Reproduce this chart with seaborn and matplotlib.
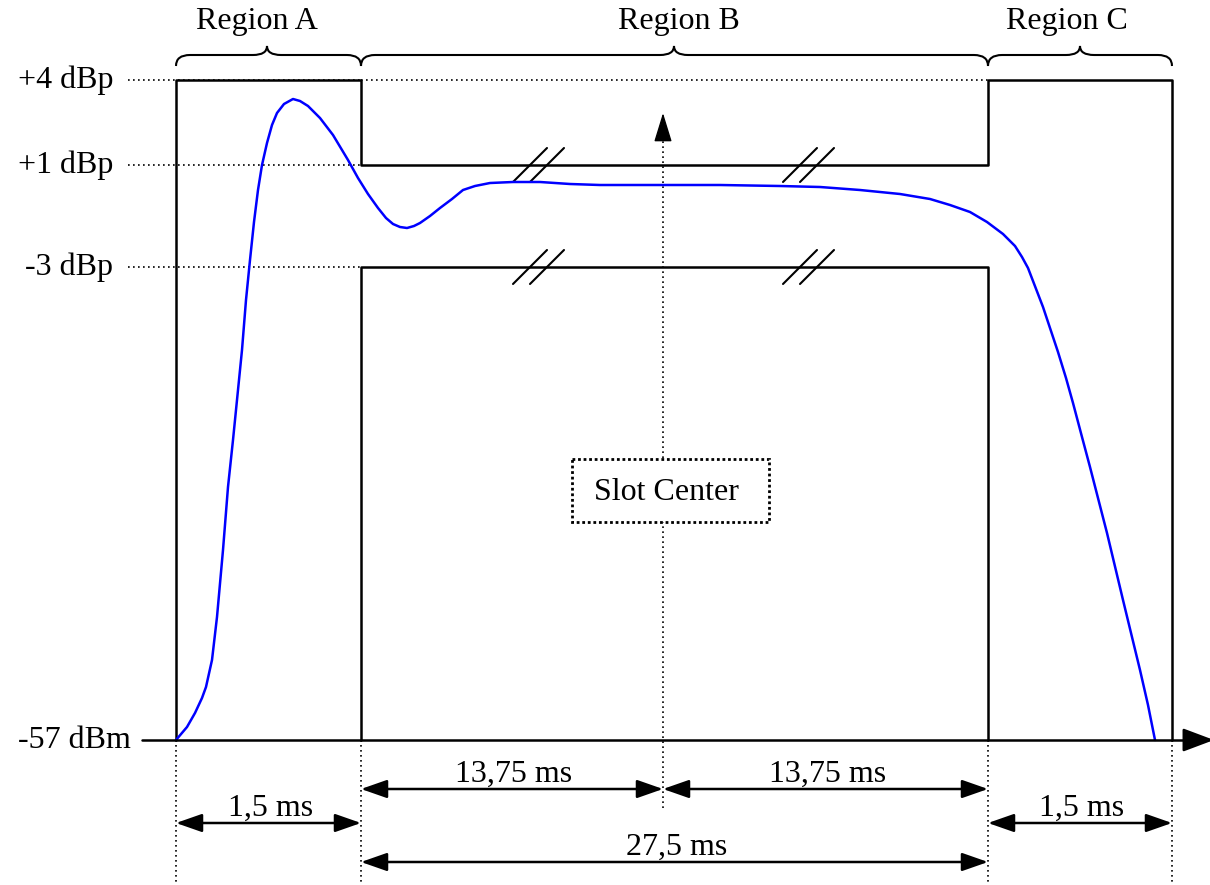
import numpy as np
import pandas as pd
import seaborn as sns
import matplotlib.pyplot as plt
from matplotlib.path import Path
from matplotlib.patches import PathPatch, Rectangle

# Schematic diagram: coordinates are drawing units (x to the right, y downward)
# region edges: start of A, end of A, slot center, end of B, end of C
edge_x = [176, 361, 663, 988, 1172]
# level positions on the drawing
level_names = ["+4 dBp", "+1 dBp", "-3 dBp", "-57 dBm"]
level_y = [80, 165, 267, 740]

region_names = ["Region A", "Region B", "Region C"]
region_tips = [267, 674, 1080]

# measured burst power curve (blue)
curve_x = [176, 187, 195, 202, 206, 212, 217, 223, 228, 233, 237, 242, 246, 250, 254, 258,
           262, 267, 272, 277, 284, 293, 300, 308, 320, 333, 348, 358, 368, 378, 386,
           393, 400, 407, 414, 420, 430, 440, 452, 463, 475, 490, 513, 540, 570, 600,
           663, 720, 780, 820, 860, 900, 930, 950, 970, 987, 1003, 1015, 1022, 1028,
           1033, 1038, 1043, 1050, 1058, 1066, 1073, 1082, 1090, 1107, 1123, 1140,
           1148, 1155]
curve_y = [740, 727, 713, 698, 687, 660, 617, 550, 487, 440, 400, 350, 300, 260, 222, 190,
           165, 143, 125, 113, 104, 99, 101, 106, 118, 135, 160, 178, 194, 208, 218,
           224, 227, 228, 226, 223, 216, 208, 199, 190, 186, 183, 182, 182, 184, 185,
           185, 185, 186, 187, 190, 194, 199, 205, 212, 222, 234, 246, 257, 268,
           281, 294, 307, 328, 352, 378, 403, 437, 467, 533, 600, 670,
           705, 740]

dim_labels = ["1,5 ms", "13,75 ms", "13,75 ms", "1,5 ms", "27,5 ms"]
dim_from = [0, 1, 2, 3, 1]   # index into edge_x
dim_to = [1, 2, 3, 4, 3]
dim_row = [823, 789, 789, 823, 862]

sns.set_style("white")
plt.rcParams['font.family'] = ['Liberation Serif', 'DejaVu Serif']
plt.rcParams['text.color'] = 'black'

fig = plt.figure(figsize=(12.1, 8.85), dpi=100)
ax = fig.add_axes([0, 0, 1, 1])
ax.set_xlim(0, 1210)
ax.set_ylim(885, 0)
ax.axis('off')

x0, xa, xc, xb, xe = edge_x
y4, y1, y3, y57 = level_y
FS = 23

# dotted reference lines
dot = dict(color='black', lw=1.2, linestyle=(0, (1, 2)))
for y in level_y[:3]:
    ax.plot([128, xa], [y, y], **dot)
ax.plot([xa, xb], [y4, y4], **dot)
for x in [x0, xa, xb, xe]:
    ax.plot([x, x], [y57, 885], **dot)
ax.plot([xc, xc], [808, 130], **dot)

# mask template
upper = pd.DataFrame({
    'x': [x0, x0, xa, xa, xb, xb, xe, xe],
    'y': [y57, y4, y4, y1, y1, y4, y4, y57]})
lower = pd.DataFrame({
    'x': [xa, xa, xb, xb],
    'y': [y57, y3, y3, y57]})
sns.lineplot(data=upper, x='x', y='y', sort=False, estimator=None, color='black', lw=1.8, ax=ax)
sns.lineplot(data=lower, x='x', y='y', sort=False, estimator=None, color='black', lw=1.8, ax=ax)

# break marks
for y in [y1, y3]:
    for cx in [530, 547, 800, 817]:
        ax.plot([cx - 17, cx + 17], [y + 17, y - 17], color='black', lw=1.5)

# burst curve
sns.lineplot(x=curve_x, y=curve_y, sort=False, estimator=None, color='#0000ff', lw=1.8, ax=ax)

# time axis
ax.plot([142, 1195], [y57, y57], color='black', lw=1.8)
ax.annotate('', xy=(1214, y57), xytext=(1190, y57), annotation_clip=False,
            arrowprops=dict(arrowstyle='-|>,head_length=1.2,head_width=0.45', color='black',
                            lw=1.8, mutation_scale=16, shrinkA=0, shrinkB=0))

# slot center arrow head
ax.annotate('', xy=(xc, 113), xytext=(xc, 134),
            arrowprops=dict(arrowstyle='-|>,head_length=1.3,head_width=0.4', color='black',
                            lw=1, mutation_scale=14, shrinkA=0, shrinkB=0))
ax.add_patch(Rectangle((572, 459), 197, 63, fc='white', ec='black', lw=2,
                       linestyle=(0, (1, 1)), zorder=3))
ax.text(666, 492, 'Slot Center', ha='center', va='center', fontsize=FS, zorder=4)

# level labels
for name, y in zip(level_names, level_y):
    xr = 131 if name.endswith('dBm') else 113
    ax.text(xr, y, name, ha='right', va='center', fontsize=FS)

# braces and region labels
spans = [(x0, xa), (xa, xb), (xb, xe)]
for (a, b), tip, name in zip(spans, region_tips, region_names):
    verts = [(a, 66), (a, 55), (a + 14, 55), (tip - 14, 55), (tip, 55), (tip, 46),
             (tip, 55), (tip + 14, 55), (b - 14, 55), (b, 55), (b, 66)]
    codes = [Path.MOVETO, Path.CURVE3, Path.CURVE3, Path.LINETO, Path.CURVE3, Path.CURVE3,
             Path.CURVE3, Path.CURVE3, Path.LINETO, Path.CURVE3, Path.CURVE3]
    ax.add_patch(PathPatch(Path(verts, codes), fc='none', ec='black', lw=1.5))
ax.text(257, 22, region_names[0], ha='center', va='center', fontsize=FS)
ax.text(679, 22, region_names[1], ha='center', va='center', fontsize=FS)
ax.text(1067, 22, region_names[2], ha='center', va='center', fontsize=FS)

# dimension arrows
for lab, i, j, y in zip(dim_labels, dim_from, dim_to, dim_row):
    a, b = edge_x[i], edge_x[j]
    ax.annotate('', xy=(b, y), xytext=(a, y),
                arrowprops=dict(arrowstyle='<|-|>,head_length=1.0,head_width=0.35',
                                color='black', lw=1.8, mutation_scale=16,
                                shrinkA=0, shrinkB=0))
    ax.text((a + b) / 2 + 2, y - 15, lab, ha='center', va='center', fontsize=FS)

plt.savefig('out.png', dpi=100)
plt.close()
